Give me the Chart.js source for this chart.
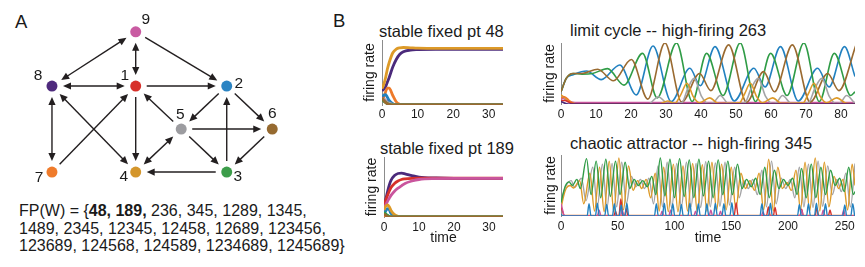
<!DOCTYPE html>
<html>
<head>
<meta charset="utf-8">
<script src="https://cdn.jsdelivr.net/npm/chart.js@4.4.1/dist/chart.umd.min.js"></script>
<style>
  body { margin: 0; background: #fff; }
  #wrap { position: relative; width: 865px; height: 267px; background: #fff; font-family: 'Liberation Sans', Arial, sans-serif; color: #1a1a1a; }
  #wrap canvas { position: absolute; }
  .txt { position: absolute; white-space: nowrap; }
  .letter { font-size: 18.5px; line-height: 18.5px; }
  .ttl { font-size: 16.5px; line-height: 16.5px; }
  #fp { left: 19px; top: 202px; font-size: 16px; line-height: 17.5px; }
</style>
</head>
<body>
<div id="wrap">
  <div class="txt letter" style="left:15px;top:13px">A</div>
  <canvas id="graph" width="300" height="195" style="left:0;top:0"></canvas>
  <div class="txt" id="fp">FP(W) = {<b>48, 189,</b> 236, 345, 1289, 1345,<br>1489, 2345, 12345, 12458, 12689, 123456,<br>123689, 124568, 124589, 1234689, 1245689}</div>

  <div class="txt letter" style="left:333px;top:12px">B</div>
  <div class="txt ttl" style="left:379px;top:23px">stable fixed pt 48</div>
  <div class="txt ttl" style="left:380px;top:140px">stable fixed pt 189</div>
  <div class="txt ttl" style="left:570px;top:22px">limit cycle -- high-firing 263</div>
  <div class="txt ttl" style="left:570px;top:135px">chaotic attractor -- high-firing 345</div>

  <canvas id="fp48" width="162" height="86" style="left:350px;top:38px"></canvas>
  <canvas id="fp189" width="162" height="92" style="left:350px;top:155px"></canvas>
  <canvas id="limit" width="320" height="86" style="left:540px;top:38px"></canvas>
  <canvas id="chaos" width="320" height="94" style="left:540px;top:153px"></canvas>
</div>

<script>
// ---- panel A: network (nodes 1..9) ----
const nodeNames  = ['1', '2', '3', '4', '5', '6', '7', '8', '9'];
const nodeX      = [0.92, 1.92, 1.92, 0.92, 1.42, 2.42, 0, 0, 0.92];
const nodeY      = [1, 1, 0, 0, 0.5, 0.5, 0, 1, 1.63];
const nodeColors = ['#d7302a', '#2b84c3', '#3c9d4a', '#d4962c', '#9c9ca0', '#966a30', '#ef7b2b', '#4e2a7d', '#c95ba2'];
const edgesOneWay = [[9, 2], [1, 2], [1, 4], [7, 1], [2, 5], [2, 6], [5, 1], [5, 6], [5, 3], [6, 3], [3, 2], [3, 4]];
const edgesTwoWay = [[9, 1], [9, 8], [8, 1], [8, 7], [8, 4], [4, 5]];

// ---- panel B: firing rates ----
const tStable = [0, 0.5, 1, 1.5, 2, 3, 4, 5, 6, 8, 10, 15, 20, 25, 34];

const fp48Gold   = [0.25, 0.32, 0.42, 0.55, 0.65, 0.80, 0.86, 0.88, 0.885, 0.88, 0.875, 0.87, 0.87, 0.87, 0.87];
const fp48Purple = [0.22, 0.24, 0.28, 0.35, 0.42, 0.58, 0.70, 0.78, 0.82, 0.845, 0.852, 0.857, 0.857, 0.857, 0.857];
const fp48Orange = [0.08, 0.12, 0.20, 0.26, 0.26, 0.15, 0.05, 0.01, 0, 0, 0, 0, 0, 0, 0];
const fp48Blue   = [0.12, 0.15, 0.16, 0.12, 0.07, 0.02, 0, 0, 0, 0, 0, 0, 0, 0, 0];
const fp48Red    = [0.12, 0.08, 0.05, 0.03, 0.02, 0.005, 0, 0, 0, 0, 0, 0, 0, 0, 0];
const fp48Green  = [0.09, 0.06, 0.04, 0.02, 0.01, 0, 0, 0, 0, 0, 0, 0, 0, 0, 0];
const fp48Gray   = [0.10, 0.09, 0.06, 0.04, 0.03, 0.01, 0, 0, 0, 0, 0, 0, 0, 0, 0];
const fp48Brown  = [0.11, 0.07, 0.04, 0.02, 0.01, 0, 0, 0, 0, 0, 0, 0, 0, 0, 0];
const fp48Pink   = [0.14, 0.10, 0.07, 0.05, 0.03, 0.015, 0.01, 0.01, 0.01, 0.01, 0.01, 0.01, 0.01, 0.01, 0.01];

const fp189Purple = [0.20, 0.30, 0.42, 0.53, 0.61, 0.69, 0.725, 0.73, 0.72, 0.69, 0.665, 0.65, 0.645, 0.645, 0.645];
const fp189Red    = [0.20, 0.28, 0.36, 0.43, 0.49, 0.56, 0.60, 0.625, 0.635, 0.645, 0.648, 0.648, 0.647, 0.647, 0.647];
const fp189Pink   = [0.15, 0.20, 0.26, 0.31, 0.36, 0.43, 0.48, 0.52, 0.56, 0.60, 0.625, 0.64, 0.645, 0.645, 0.645];
const fp189Gold   = [0.12, 0.18, 0.20, 0.17, 0.11, 0.04, 0.01, 0, 0, 0, 0, 0, 0, 0, 0];
const fp189Blue   = [0.05, 0.10, 0.14, 0.12, 0.06, 0.015, 0, 0, 0, 0, 0, 0, 0, 0, 0];
const fp189Green  = [0.08, 0.05, 0.03, 0.01, 0, 0, 0, 0, 0, 0, 0, 0, 0, 0, 0];
const fp189Gray   = [0.06, 0.04, 0.02, 0.01, 0, 0, 0, 0, 0, 0, 0, 0, 0, 0, 0];
const fp189Brown  = [0.05, 0.03, 0.01, 0, 0, 0, 0, 0, 0, 0, 0, 0, 0, 0, 0];
const fp189Orange = [0.02, 0.01, 0, 0, 0, 0, 0, 0, 0, 0, 0, 0, 0, 0, 0];

// limit cycle -- [time, rate]
const limGreen = [[0,0.2],[1.5,0.42],[3.5,0.5],[6,0.49],[9,0.5],[13.3,0.58],[18,0.31],[23.3,0.83],[27.5,0.1],[33,1.0],[37.5,0.04],[41.6,0.83],[46.3,0.14],[51.2,1.0],[55.6,0.04],[59.9,0.83],[64.6,0.14],[69.4,1.0],[73.8,0.04],[78.1,0.83],[82.8,0.14],[84,0.2]];
const limBlue  = [[0,0.2],[1.5,0.42],[3.5,0.48],[7.3,0.54],[11.5,0.4],[16.8,0.64],[21.5,0.15],[26.3,0.95],[31.5,0.04],[36.8,0.585],[39.8,0.3],[44.0,0.94],[49.5,0.05],[55.1,0.585],[58.3,0.28],[62.7,0.94],[67.8,0.05],[73.3,0.585],[76.6,0.28],[81.0,0.94],[84,0.45]];
const limBrown = [[0,0.2],[1.5,0.42],[3.5,0.5],[6,0.5],[10.5,0.57],[15,0.38],[20.1,0.73],[24.8,0.08],[29.7,1.0],[34.5,0.03],[39.6,0.5],[42.8,0.22],[47.9,0.97],[53,0.03],[57.9,0.53],[61,0.2],[66.1,0.97],[71.2,0.03],[76.2,0.5],[79.4,0.22],[84.3,0.97]];
const limGold  = [[0,0.15],[1.2,0.1],[3,0.02],[6,0],[28,0],[30.5,0.05],[32.5,0.01],[34.2,0.15],[36,0.34],[37.8,0.12],[39.5,0.02],[42.5,0.1],[45,0.01],[51,0.02],[52.4,0.16],[54.1,0.34],[55.9,0.12],[57.5,0.02],[60.5,0.1],[63,0.01],[69.2,0.02],[70.6,0.16],[72.3,0.34],[74.1,0.12],[75.8,0.02],[78.8,0.1],[81.5,0.01],[84,0]];
const limGray  = [[0,0.12],[1,0.1],[2.5,0.03],[5,0],[25,0],[27.8,0.12],[30.5,0.01],[34.5,0.02],[36.2,0.25],[38,0.42],[40.2,0.12],[42,0.01],[43.5,0.02],[45.5,0.14],[47.8,0.01],[52.5,0.02],[54.3,0.25],[56.3,0.42],[58.5,0.12],[60.3,0.01],[61.5,0.02],[63.3,0.14],[65.8,0.01],[70.7,0.02],[72.5,0.25],[74.5,0.42],[76.7,0.12],[78.5,0.01],[79.8,0.02],[81.6,0.14],[84,0.01]];
const limOrange = [[0,0.1],[1,0.12],[2.5,0.05],[4,0],[84,0]];
const limRed    = [[0,0.05],[1,0.06],[3,0.01],[5,0],[84,0]];
const limPurple = [[0,0.04],[2,0],[84,0]];
const limPink   = [[0,0.08],[0.8,0.1],[2,0.04],[4,0.02],[84,0.02]];

// chaotic attractor -- [time, rate]
const chaosGreen = [[0,0.22],[2,0.38],[4,0.5],[7,0.56],[10,0.5],[14,0.6],[17,0.45],[22.5,0.94],[26.5,0.35],[31,0.9],[35,0.3],[39.5,0.93],[43.5,0.32],[48,0.9],[52,0.35],[56.5,0.88],[60.5,0.45],[64.5,0.6],[68,0.5],[72,0.58],[76,0.48],[80,0.65],[83.5,0.35],[87.5,0.95],[91.5,0.33],[96,0.93],[100,0.3],[104.5,0.94],[108.5,0.32],[113,0.92],[117,0.3],[121.5,0.93],[125.5,0.33],[130,0.9],[134,0.3],[138.5,0.92],[142.5,0.35],[147,0.9],[151,0.35],[155.5,0.85],[159.5,0.45],[163.5,0.6],[167.5,0.48],[171.5,0.62],[175.5,0.35],[179.5,0.8],[183.5,0.3],[188,0.75],[192,0.45],[196,0.6],[200,0.5],[204,0.62],[208,0.35],[212,0.78],[216,0.3],[220.5,0.85],[224.5,0.3],[229,0.8],[233,0.35],[237.5,0.75],[241.5,0.5],[245.5,0.62],[249.5,0.4],[253.5,0.8],[257.5,0.35],[259,0.4]];
const chaosGold  = [[0,0.12],[2,0.3],[4.5,0.45],[8,0.5],[11,0.46],[16.5,0.58],[20,0.2],[25.5,0.7],[29.5,0.08],[34,0.8],[38,0.07],[42.5,0.9],[46.5,0.07],[51,0.95],[55,0.1],[59.5,0.82],[63.5,0.42],[67.5,0.58],[71,0.45],[75,0.6],[79,0.3],[83,0.7],[86.5,0.08],[90.5,0.8],[94.5,0.07],[99,0.85],[103,0.07],[107.5,0.82],[111.5,0.08],[116,0.86],[120,0.07],[124.5,0.84],[128.5,0.08],[133,0.88],[137,0.08],[141.5,0.85],[145.5,0.1],[150,0.8],[154,0.12],[158.5,0.7],[162.5,0.45],[166.5,0.58],[170.5,0.42],[174.5,0.7],[178.5,0.1],[183,0.93],[187,0.08],[191,0.8],[195,0.45],[199,0.55],[203,0.42],[207,0.75],[211,0.1],[215,0.88],[219,0.08],[224,0.95],[228,0.08],[232,0.88],[236,0.15],[240.5,0.65],[244.5,0.45],[248.5,0.6],[252.5,0.1],[256.5,0.85],[259,0.5]];
const chaosGray  = [[0,0.2],[2,0.36],[4,0.48],[9,0.58],[12,0.47],[18,0.62],[22,0.25],[28,0.8],[32,0.15],[36.5,0.85],[40.5,0.14],[45,0.86],[49,0.15],[53.5,0.88],[57.5,0.2],[62,0.65],[66,0.48],[70,0.6],[73.5,0.45],[77.5,0.62],[81.5,0.2],[85.5,0.82],[89.5,0.15],[93.5,0.88],[97.5,0.13],[102,0.86],[106,0.14],[110.5,0.88],[114.5,0.15],[119,0.86],[123,0.14],[127.5,0.89],[131.5,0.15],[136,0.87],[140,0.16],[144.5,0.88],[148.5,0.18],[153,0.8],[157,0.3],[161,0.58],[165,0.45],[169,0.6],[173,0.35],[177,0.75],[181,0.15],[185.5,0.9],[189.5,0.2],[194,0.62],[198,0.45],[202,0.6],[206,0.3],[210,0.8],[214,0.15],[218,0.85],[222,0.14],[226.5,0.9],[230.5,0.16],[235,0.82],[239,0.35],[243,0.6],[247,0.4],[251,0.7],[255,0.15],[259,0.86]];
const chaosBlue  = [[0,0.03],[2,0],[23,0],[24.7,0.2],[26.4,0],[30.3,0],[32,0.21],[33.7,0],[38.5,0],[40.2,0.19],[41.9,0],[45.3,0],[47,0.2],[48.7,0],[51.3,0],[53,0.18],[54.7,0],[56.3,0],[58,0.21],[59.7,0],[82.3,0],[84,0.2],[85.7,0],[89.3,0],[91,0.21],[92.7,0],[96.8,0],[98.5,0.2],[100.2,0],[104.3,0],[106,0.19],[107.7,0],[111.8,0],[113.5,0.21],[115.2,0],[119.3,0],[121,0.2],[122.7,0],[126.8,0],[128.5,0.2],[130.2,0],[134.3,0],[136,0.21],[137.7,0],[141.8,0],[143.5,0.2],[145.2,0],[148.8,0],[150.5,0.22],[152.2,0],[175.3,0],[177,0.2],[178.7,0],[182.8,0],[184.5,0.21],[186.2,0],[208.3,0],[210,0.19],[211.7,0],[216.3,0],[218,0.2],[219.7,0],[223.3,0],[225,0.21],[226.7,0],[231.3,0],[233,0.2],[234.7,0],[248.3,0],[250,0.18],[251.7,0],[255.3,0],[257,0.2],[258.7,0]];
const chaosRed   = [[0,0.14],[1,0.1],[3,0],[46.5,0],[48,0.08],[49.5,0],[51,0],[52.7,0.28],[54.4,0],[56,0],[57.5,0.12],[59,0],[152.5,0],[154.3,0.22],[156,0],[181,0],[182.7,0.15],[184.4,0],[187,0],[188.6,0.14],[190.2,0],[210.5,0],[212,0.11],[213.5,0],[223.8,0],[225.4,0.13],[227,0],[235.5,0],[237,0.1],[238.5,0],[259,0]];
const chaosPink  = [[0,0.2],[0.8,0.15],[2.5,0.02],[4,0],[32,0],[33.6,0.1],[35.2,0],[52.5,0],[54,0.1],[55.5,0],[87.5,0],[89,0.08],[90.5,0],[95,0],[96.5,0.1],[98,0],[117,0],[118.5,0.08],[120,0],[130.5,0],[132,0.1],[133.5,0],[139,0],[140.5,0.08],[142,0],[176.5,0],[178,0.07],[179.5,0],[210.5,0],[212,0.1],[213.5,0],[229.5,0],[231,0.1],[232.5,0],[247.5,0],[249,0.1],[250.5,0],[259,0]];
const chaosOrange = [[0,0],[259,0]];

const C = {
  red: '#d6302a', blue: '#2281c0', green: '#2f9c46', gold: '#dd9a28', gray: '#a4a4a6',
  brown: '#9a6a30', orange: '#ee7a2a', purple: '#4b2a7b', pink: '#c9559d'
};
const FONT = "'Liberation Sans', Arial, sans-serif";

// dataset from a time array + value array, or from [t, v] pairs
function series(color, width, values, times) {
  const data = times ? values.map((v, i) => ({ x: times[i], y: v }))
                     : values.map(p => ({ x: p[0], y: p[1] }));
  return { data, borderColor: color, borderWidth: width, pointRadius: 0,
           cubicInterpolationMode: 'monotone', fill: false };
}

function lineOptions(o) {
  return {
    responsive: false,
    animation: false,
    layout: { autoPadding: false, padding: { top: o.padTop, right: o.padRight, left: 0, bottom: 0 } },
    plugins: { legend: { display: false }, tooltip: { enabled: false } },
    scales: {
      x: {
        type: 'linear', min: 0, max: o.xMax,
        grid: { display: false, drawTicks: false },
        border: { display: false },
        ticks: { stepSize: o.step, includeBounds: false, padding: o.tickPad, color: '#1a1a1a',
                 font: { family: FONT, size: 12 } },
        title: { display: o.showTime, text: 'time', color: '#1a1a1a', padding: { top: 0, bottom: 0 },
                 font: { family: FONT, size: 14 } },
        afterFit: s => { s.height = o.xHeight; }
      },
      y: {
        min: 0, max: 1,
        grid: { display: false, drawTicks: false },
        border: { display: true, color: '#8c8c8c', width: 1 },
        ticks: { display: false },
        title: { display: true, text: 'firing rate', color: '#1a1a1a', padding: { top: o.yTitlePad, bottom: 0 },
                 font: { family: FONT, size: 14 } },
        afterFit: s => { s.width = o.yWidth; }
      }
    }
  };
}

// stable fixed pt 48
new Chart(document.getElementById('fp48'), {
  type: 'line',
  data: { datasets: [
    series(C.brown, 2.8, fp48Brown, tStable),
    series(C.green, 2.8, fp48Green, tStable),
    series(C.gray, 2.8, fp48Gray, tStable),
    series(C.red, 2.8, fp48Red, tStable),
    series(C.blue, 2.8, fp48Blue, tStable),
    series(C.orange, 2.8, fp48Orange, tStable),
    series(C.pink, 2.8, fp48Pink, tStable),
    series(C.gold, 2.8, fp48Gold, tStable),
    series(C.purple, 2.8, fp48Purple, tStable)
  ] },
  options: lineOptions({ xMax: 34, step: 10, padTop: 2, padRight: 9, xHeight: 19, yWidth: 32,
                         tickPad: 2, yTitlePad: 12, showTime: false })
});

// stable fixed pt 189
new Chart(document.getElementById('fp189'), {
  type: 'line',
  data: { datasets: [
    series(C.brown, 2.8, fp189Brown, tStable),
    series(C.green, 2.8, fp189Green, tStable),
    series(C.gray, 2.8, fp189Gray, tStable),
    series(C.gold, 2.8, fp189Gold, tStable),
    series(C.blue, 2.8, fp189Blue, tStable),
    series(C.orange, 2.8, fp189Orange, tStable),
    series(C.pink, 2.8, fp189Pink, tStable),
    series(C.red, 2.8, fp189Red, tStable),
    series(C.purple, 2.8, fp189Purple, tStable)
  ] },
  options: lineOptions({ xMax: 34, step: 10, padTop: 2, padRight: 9, xHeight: 30, yWidth: 34,
                         tickPad: 3, yTitlePad: 14, showTime: true })
});

// limit cycle -- high-firing 263
new Chart(document.getElementById('limit'), {
  type: 'line',
  data: { datasets: [
    series(C.purple, 1.6, limPurple),
    series(C.red, 1.6, limRed),
    series(C.orange, 1.6, limOrange),
    series(C.gold, 1.6, limGold),
    series(C.gray, 1.6, limGray),
    series(C.brown, 1.6, limBrown),
    series(C.green, 1.6, limGreen),
    series(C.blue, 1.6, limBlue),
    series(C.pink, 2.2, limPink)
  ] },
  options: lineOptions({ xMax: 84, step: 10, padTop: 5, padRight: 5, xHeight: 20, yWidth: 21,
                         tickPad: 3, yTitlePad: 2, showTime: false })
});

// chaotic attractor -- high-firing 345
new Chart(document.getElementById('chaos'), {
  type: 'line',
  data: { datasets: [
    series(C.blue, 1.4, chaosBlue),
    series(C.pink, 1.4, chaosPink),
    series(C.red, 1.4, chaosRed),
    series(C.green, 1.4, chaosGreen),
    series(C.gold, 1.4, chaosGold),
    series(C.gray, 1.4, chaosGray),
    series(C.orange, 2.6, chaosOrange)
  ] },
  options: lineOptions({ xMax: 259, step: 50, padTop: 2, padRight: 5, xHeight: 31, yWidth: 21,
                         tickPad: 3, yTitlePad: 3, showTime: true })
});

// ---- panel A drawing ----
const graphPlugin = {
  id: 'graphEdges',
  beforeDatasetsDraw(chart, args, opts) {
    const { ctx, scales: { x, y } } = chart;
    const pos = n => [x.getPixelForValue(nodeX[n - 1]), y.getPixelForValue(nodeY[n - 1])];
    ctx.save();
    ctx.strokeStyle = opts.color;
    ctx.fillStyle = opts.color;
    ctx.lineWidth = 1.4;
    const head = (tx, ty, ux, uy) => {
      ctx.beginPath();
      ctx.moveTo(tx, ty);
      ctx.lineTo(tx - ux * opts.head - uy * opts.half, ty - uy * opts.head + ux * opts.half);
      ctx.lineTo(tx - ux * opts.head + uy * opts.half, ty - uy * opts.head - ux * opts.half);
      ctx.closePath();
      ctx.fill();
    };
    const edge = (a, b, both) => {
      const [x1, y1] = pos(a), [x2, y2] = pos(b);
      const len = Math.hypot(x2 - x1, y2 - y1), ux = (x2 - x1) / len, uy = (y2 - y1) / len;
      const sx = x1 + ux * opts.gap, sy = y1 + uy * opts.gap;
      const ex = x2 - ux * opts.gap, ey = y2 - uy * opts.gap;
      const back = opts.head * 0.7;
      ctx.beginPath();
      ctx.moveTo(both ? sx + ux * back : sx, both ? sy + uy * back : sy);
      ctx.lineTo(ex - ux * back, ey - uy * back);
      ctx.stroke();
      head(ex, ey, ux, uy);
      if (both) head(sx, sy, -ux, -uy);
    };
    edgesOneWay.forEach(e => edge(e[0], e[1], false));
    edgesTwoWay.forEach(e => edge(e[0], e[1], true));
    ctx.restore();
  },
  afterDatasetsDraw(chart, args, opts) {
    const { ctx, scales: { x, y } } = chart;
    ctx.save();
    ctx.fillStyle = '#1a1a1a';
    ctx.font = '15.5px ' + FONT;
    ctx.textAlign = 'center';
    ctx.textBaseline = 'middle';
    nodeNames.forEach((name, i) => {
      ctx.fillText(name, x.getPixelForValue(nodeX[i]) + opts.labelDX[i],
                         y.getPixelForValue(nodeY[i]) + opts.labelDY[i]);
    });
    ctx.restore();
  }
};

new Chart(document.getElementById('graph'), {
  type: 'scatter',
  data: { datasets: [{
    data: nodeX.map((v, i) => ({ x: v, y: nodeY[i] })),
    pointBackgroundColor: nodeColors,
    pointBorderWidth: 0,
    pointRadius: 5.5
  }] },
  options: {
    responsive: false,
    animation: false,
    layout: { autoPadding: false, padding: 0 },
    scales: {
      x: { display: false, min: -0.571, max: 2.725 },
      y: { display: false, min: -0.267, max: 2.0 }
    },
    plugins: {
      legend: { display: false },
      tooltip: { enabled: false },
      graphEdges: {
        color: '#231f20', gap: 11, head: 8, half: 3.6,
        labelDX: [-11, 12, 11, -12, -1, 0, -13, -14, 10],
        labelDY: [-10, -2, 5, 5, -14, -15, 6, -10, -12]
      }
    }
  },
  plugins: [graphPlugin]
});
</script>
</body>
</html>
